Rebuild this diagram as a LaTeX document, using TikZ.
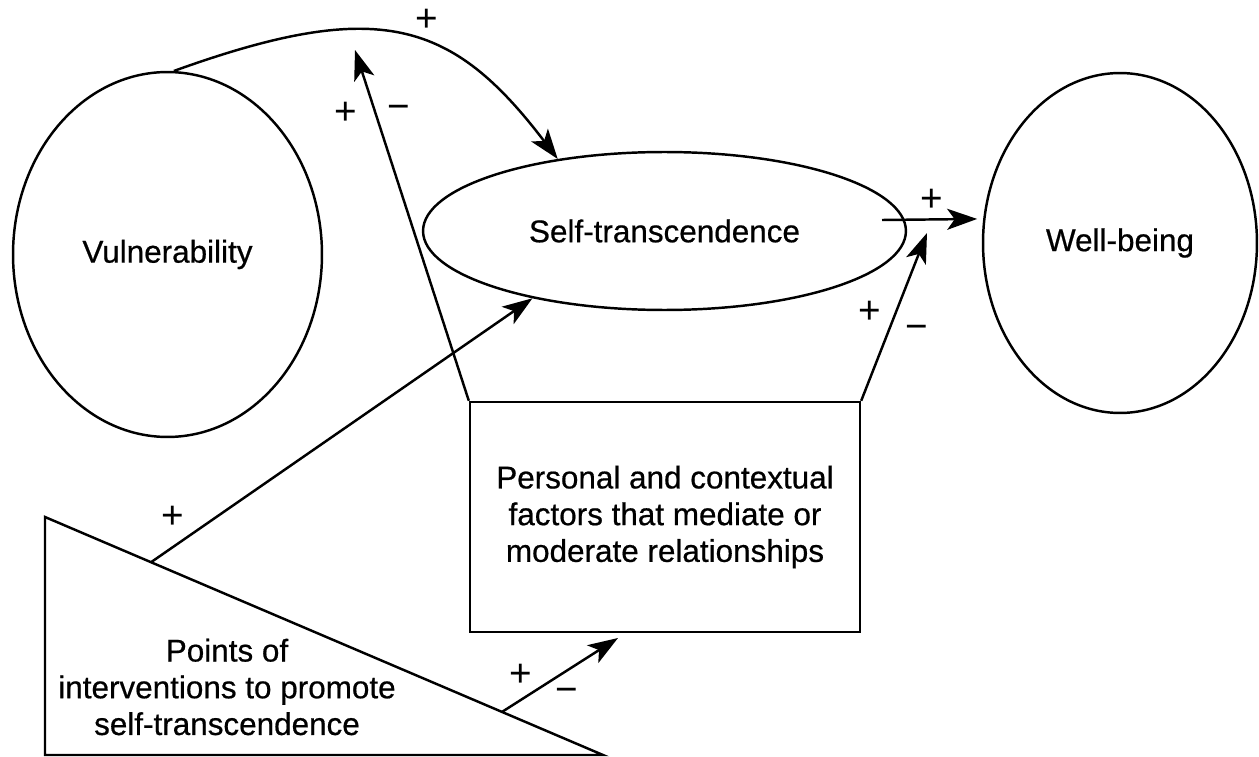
\documentclass[tikz,border=0pt]{standalone}
\usepackage{fontspec}
\setmainfont{Liberation Sans}
\usetikzlibrary{shapes.geometric,arrows.meta,calc}
\begin{document}
\begin{tikzpicture}[x=0.02cm,y=-0.02cm,
  every node/.style={font=\fontsize{17.9pt}{20.9pt}\selectfont\addfontfeature{FakeBold=0.6}},
  shp/.style={draw, line width=1.4pt, inner sep=0pt},
  conn/.style={line width=1.4pt, -{Stealth[length=0.6cm,width=0.42cm,inset=0.15cm]}},
  sign/.style={font=\fontsize{22pt}{24pt}\selectfont, inner sep=0pt},
]
\useasboundingbox (0,0) rectangle (1259,757);
% main shapes
\node[shp, ellipse, minimum width=6.18cm, minimum height=7.3cm] (vul) at (167.5,254.5) {Vulnerability};
\node[shp, ellipse, minimum width=9.66cm, minimum height=3.16cm] (st) at (664.5,231) {Self-transcendence};
\node[shp, ellipse, minimum width=5.48cm, minimum height=6.8cm] (wb) at (1120,243) {Well-being};
\node[shp, rectangle, minimum width=7.8cm, minimum height=4.6cm, align=center] (pc) at (665,517)
  {Personal and contextual\\factors that mediate or\\moderate relationships};
% triangle
\coordinate (ta) at (45,517);
\coordinate (tb) at (45,755);
\coordinate (tc) at (603,755);
\draw[line width=1.4pt, line join=miter] (ta) -- (tb) -- (tc) -- cycle;
\node[align=center] (tri) at (227,687) {Points of\\interventions to promote\\self-transcendence};
% free ends
\coordinate (t1) at (355,50);
\coordinate (t2) at (927,233);
\coordinate (t3) at (618,638);
\coordinate (s1) at (882,220);
% connectors
\draw[conn] (vul.88) .. controls (379,-3) and (452,20) .. (st.146);
\draw[conn] (pc.north west) -- (t1);
\draw[conn] (pc.north east) -- (t2);
\draw[conn, shorten >=0.12cm] (s1) -- (wb.170);
\draw[conn] ($(ta)!0.19!(tc)$) -- (st.207);
\draw[conn] ($(ta)!0.819!(tc)$) -- (t3);
% signs
\node[sign] (p1) at (427,20) {+};
\node[sign] (p2) at (346,113) {+};
\node[sign] (m2) at (399,112) {−};
\node[sign] (p3) at (932,200) {+};
\node[sign] (p4) at (870,312) {+};
\node[sign] (m4) at (917,332) {−};
\node[sign] (p5) at (173,517) {+};
\node[sign] (p6) at (521,675) {+};
\node[sign] (m6) at (567,695) {−};
\end{tikzpicture}
\end{document}
